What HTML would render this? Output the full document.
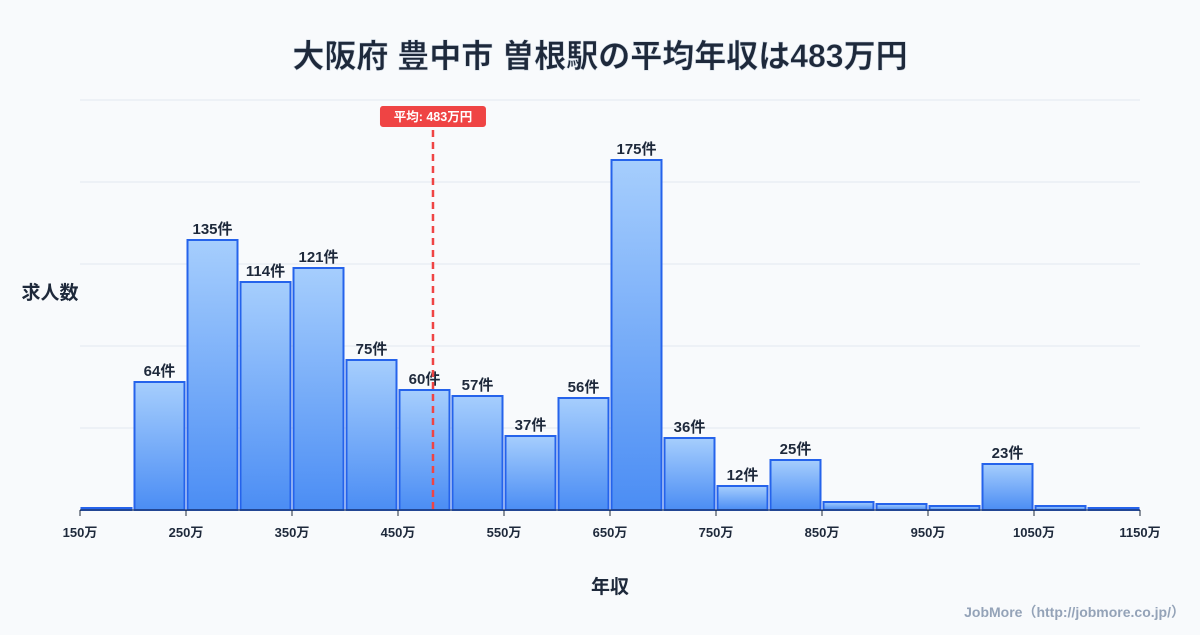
<!DOCTYPE html>
<html><head><meta charset="utf-8"><style>
body{margin:0;background:#f8fafc;font-family:"Liberation Sans","Noto Sans CJK JP",sans-serif;}
svg text{font-family:"Liberation Sans","Noto Sans CJK JP",sans-serif;}
</style></head><body>
<svg id="c" width="1200" height="630" viewBox="0 0 1200 630">
<defs><linearGradient id="g" x1="0" y1="0" x2="0" y2="1"><stop offset="0" stop-color="#a6cefd"/><stop offset="1" stop-color="#4b8df4"/></linearGradient></defs>
<text x="600" y="67" text-anchor="middle" font-size="32" font-weight="bold" fill="#1e293b" stroke="#cbd5e1" stroke-width="0.5">大阪府 豊中市 曽根駅の平均年収は483万円</text>
<text x="50" y="299" text-anchor="middle" font-size="19" font-weight="bold" fill="#1e293b">求人数</text>
<text x="610" y="593" text-anchor="middle" font-size="19" font-weight="bold" fill="#1e293b">年収</text>
<text x="1185" y="617" text-anchor="end" font-size="14" font-weight="bold" fill="#94a3b8">JobMore（http://jobmore.co.jp/）</text>
<g id="grid"></g><g id="bars"></g><g id="ticks"></g><g id="mean"></g>
</svg>
<script>
const binStarts=[150,200,250,300,350,400,450,500,550,600,650,700,750,800,850,900,950,1000,1050,1100];
const counts=[1,64,135,114,121,75,60,57,37,56,175,36,12,25,4,3,2,23,2,1];
const tickLabels=[150,250,350,450,550,650,750,850,950,1050,1150];
const meanValue=483;
const NS="http://www.w3.org/2000/svg";
const X0=80,X1=1140,Y0=510,Y1=100,XMIN=150,XMAX=1150,YMAX=205;
const xs=v=>X0+(v-XMIN)/(XMAX-XMIN)*(X1-X0);
const ys=v=>Y0-v/YMAX*(Y0-Y1);
function mk(tag,attrs,parent){const e=document.createElementNS(NS,tag);for(const k in attrs)e.setAttribute(k,attrs[k]);document.getElementById(parent).appendChild(e);return e;}
for(let i=0;i<=5;i++){const y=ys(YMAX*i/5);
const l=mk('line',{x1:X0,x2:X1,y1:y,y2:y,stroke:'#e2e8f0','stroke-width':1},'grid');

}
binStarts.forEach((b,i)=>{
const x=xs(b)+1.5,w=xs(b+50)-xs(b)-3,y=ys(counts[i]),h=Y0-y;
const r=mk('rect',{x:x,y:y,width:w,height:Math.max(h,1),fill:'url(#g)',stroke:'#2563eb','stroke-width':2},'bars');


if(counts[i]>=10){const t=mk('text',{x:x+w/2,y:y-6,'text-anchor':'middle','font-size':15,'font-weight':'bold',fill:'#1e293b'},'bars');t.textContent=counts[i]+'件';

}
});
const ax=mk('line',{x1:X0,x2:X1,y1:Y0,y2:Y0,stroke:'#1e293b','stroke-width':1},'ticks');


tickLabels.forEach(v=>{const x=xs(v);
const tl=mk('line',{x1:x,x2:x,y1:Y0,y2:Y0+6,stroke:'#1e293b'},'ticks');


const t=mk('text',{x:x,y:537,'text-anchor':'middle','font-size':13,'font-weight':'bold',fill:'#1e293b'},'ticks');t.textContent=v+'万';

});
const mx=xs(meanValue);
const ml=mk('line',{x1:mx,x2:mx,y1:130,y2:Y0,stroke:'#ef4444','stroke-width':2.5,'stroke-dasharray':'7,5'},'mean');


const mb=mk('rect',{x:mx-53,y:106,width:106,height:21,rx:3,fill:'#ef4444'},'mean');


const mt=mk('text',{x:mx,y:121,'text-anchor':'middle','font-size':12.5,'font-weight':'bold',fill:'#fff'},'mean');mt.textContent='平均: '+meanValue+'万円';


</script>
</body></html>
